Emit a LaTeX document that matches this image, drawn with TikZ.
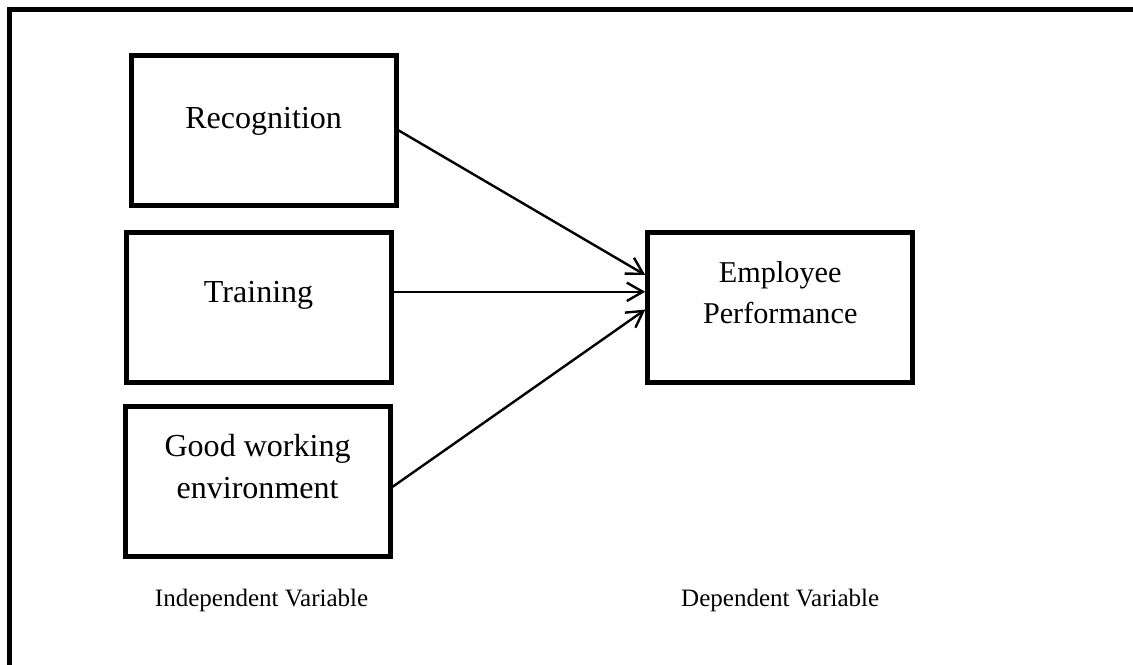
\documentclass[tikz,border=0pt]{standalone}
\usepackage{fontspec}
\setmainfont{Liberation Serif}
\usetikzlibrary{arrows.meta,positioning}

\begin{document}
\begin{tikzpicture}[
    node distance = 0.5cm,
    box/.style = {
        rectangle,
        draw,
        line width=0.125cm,
        minimum width=6.625cm,
        minimum height=3.75cm
    },
    boxtext/.style = {
        align=center,
        inner sep=0pt,
        font=\fontsize{22.8}{29.9}\selectfont
    },
    vartitle/.style = {
        inner sep=0pt,
        font=\fontsize{17.8}{21}\selectfont
    },
    arrow/.style = {
        -{Straight Barb[length=0.4cm,width=0.46cm]},
        line width=0.06cm
    }
]
\useasboundingbox (0,0) rectangle (28.325,-16.6);

% outer frame (only top and left edges fall inside the page)
\draw[line width=0.125cm] (0.23,-16.7) |- (28.4,-0.23);

% independent variables
\node[box] (rec) at (6.59,-3.26) {};
\node[box, below=0.55cm of rec, xshift=-0.125cm] (train) {};
\node[box, below=0.485cm of train, xshift=-0.025cm] (env) {};

% dependent variable
\node[box, right=6.29cm of train] (perf) {};

\node[boxtext] (recText) at ([yshift=0.23cm]rec.center) {Recognition};
\node[boxtext] (trainText) at ([yshift=0.29cm]train.center) {Training};
\node[boxtext] (envText) at ([yshift=0.39cm]env.center) {Good working\\environment};
\node[boxtext, font=\fontsize{21.5}{29.2}\selectfont] (perfText) at ([yshift=0.375cm]perf.center) {Employee\\Performance};

\node[vartitle, below=0.74cm of env, xshift=0.1cm] (indep) {Independent Variable};
\node[vartitle] (dep) at (perf |- indep) {Dependent Variable};

\draw[arrow] (rec.east) -- ([yshift=0.81cm]perf.west);
\draw[arrow] ([yshift=0.39cm]train.east) -- ([yshift=0.39cm]perf.west);
\draw[arrow] ([yshift=-0.125cm]env.east) -- ([yshift=-0.055cm]perf.west);

\end{tikzpicture}
\end{document}
